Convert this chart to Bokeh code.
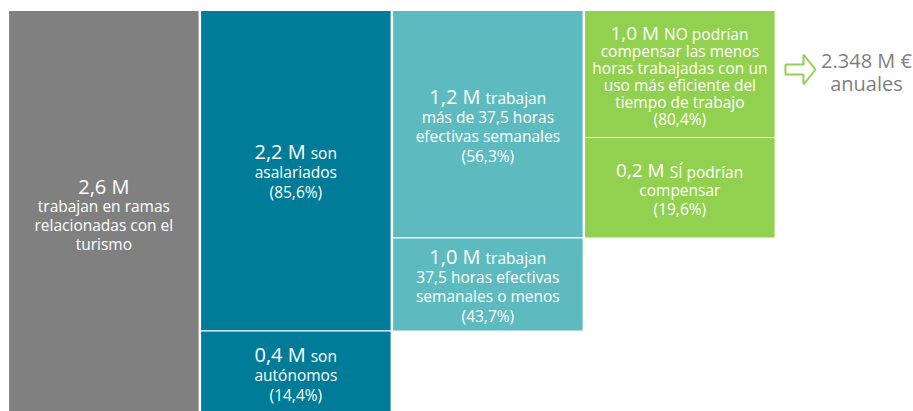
from bokeh.plotting import figure
from bokeh.models import Range1d
from bokeh.core.properties import value
from bokeh.embed import file_html
from bokeh.resources import INLINE

# ---------------- data ----------------
big_vals = ["2,6 M", "2,2 M", "0,4 M", "1,2 M", "1,0 M", "1,0 M", "0,2 M"]
first_words = ["", "son", "son", "trabajan", "trabajan", "NO podrían", "SÍ podrían"]
desc_lines = [
    ["trabajan en ramas", "relacionadas con el", "turismo"],
    ["asalariados"],
    ["autónomos"],
    ["más de 37,5 horas", "efectivas semanales"],
    ["37,5 horas efectivas", "semanales o menos"],
    ["compensar las menos", "horas trabajadas con un", "uso más eficiente del", "tiempo de trabajo"],
    ["compensar"],
]
shares = [None, "85,6%", "14,4%", "56,3%", "43,7%", "80,4%", "19,6%"]
result_lines = ["2.348 M €", "anuales"]

# ---------------- layout (design, not data) ----------------
col_of = [0, 1, 1, 2, 2, 3, 3]
row_span = [(0, 4), (0, 3), (3, 4), (0, 2), (2, 3), (0, 1), (1, 2)]
row_edges = [10, 137, 237.5, 330.5, 411]
col_x0, col_step, col_w = 8, 192, 190.7
col_colors = ["#808080", "#007c99", "#5dbbbf", "#92d050"]
line_h = [19, 19.5, 19.5, 19.5, 19.5, 17, 19]
v_off = [4.5, 1.5, 4.0, 2.0, 2.0, 2.0, 2.5]
big_size = [20, 20, 20, 20, 20, 19, 19]
small_size = 15.5

W, H = 913, 411
p = figure(width=W, height=H, output_backend="svg", toolbar_location=None,
           x_range=Range1d(0, W), y_range=Range1d(H, 0), min_border=0)
p.axis.visible = False
p.grid.visible = False
p.outline_line_color = None
p.background_fill_color = "white"
p.border_fill_color = "white"

FONT = "Open Sans"
# approximate Open Sans advance widths (per 2048 em)
cw = {' ': 532, ',': 502, '.': 545, '%': 1470, '(': 608, ')': 608, 'M': 1849, 'N': 1604, 'O': 1599,
      'S': 1100, 'Í': 621, 'a': 1139, 'b': 1255, 'c': 975, 'd': 1255, 'e': 1149, 'f': 694, 'g': 1122,
      'h': 1257, 'i': 518, 'j': 518, 'k': 1075, 'l': 518, 'm': 1905, 'n': 1257, 'o': 1237, 'p': 1255,
      'r': 836, 's': 977, 't': 723, 'u': 1257, 'v': 1026, 'w': 1593, 'y': 1028, 'z': 977, 'í': 518,
      'á': 1139, 'ó': 1237}


def est_w(s, size):
    return sum(cw.get(ch, 1171) for ch in s) / 2048 * size


left, right, bottom, top, colors = [], [], [], [], []
for i in range(len(big_vals)):
    c = col_of[i]
    r0, r1 = row_span[i]
    left.append(col_x0 + c * col_step)
    right.append(col_x0 + c * col_step + col_w)
    top.append(row_edges[r0])
    bottom.append(row_edges[r1] + (8 if r1 == len(row_edges) - 1 else 0))
    colors.append(col_colors[c])

p.quad(left=left, right=right, top=top, bottom=bottom, fill_color=colors,
       line_color="white", line_width=1.2)

for i in range(len(big_vals)):
    cx = (left[i] + right[i]) / 2
    yc = (row_edges[row_span[i][0]] + row_edges[row_span[i][1]]) / 2 + v_off[i]
    lines = desc_lines[i] + ([f"({shares[i]})"] if shares[i] else [])
    n = 1 + len(lines)
    lh = line_h[i]
    y0 = yc - (n - 1) / 2 * lh - 1
    # first line: big value + small words
    bw = est_w(big_vals[i], big_size[i])
    if first_words[i]:
        sw = est_w(first_words[i], small_size)
        gap = 5
        split = cx - (bw + gap + sw) / 2 + bw
        p.text(x=[split], y=[y0], text=[big_vals[i]], text_align="right", text_baseline="middle",
               text_color="white", text_font=value(FONT), text_font_size=f"{big_size[i]}px")
        p.text(x=[split + gap], y=[y0 + 1.5], text=[first_words[i]], text_align="left",
               text_baseline="middle", text_color="white", text_font=value(FONT),
               text_font_size=f"{small_size}px")
    else:
        p.text(x=[cx], y=[y0], text=[big_vals[i]], text_align="center", text_baseline="middle",
               text_color="white", text_font=value(FONT), text_font_size=f"{big_size[i]}px")
    ys = [y0 + 1 + (k + 1) * lh for k in range(len(lines))]
    p.text(x=[cx] * len(lines), y=ys, text=lines, text_align="center", text_baseline="middle",
           text_color="white", text_font=value(FONT), text_font_size=f"{small_size}px")

# arrow (outline) pointing to the result
ax = [785, 803, 803, 815, 803, 803, 785]
ay = [64, 64, 54, 69, 84, 74, 74]
p.patch(ax, ay, fill_color="white", line_color="#92d050", line_width=2)

p.text(x=[866, 866], y=[60, 83], text=result_lines, text_align="center", text_baseline="middle",
       text_color="#7f7f7f", text_font=value(FONT), text_font_size="20px")

open("out.html", "w").write(file_html(p, INLINE))
